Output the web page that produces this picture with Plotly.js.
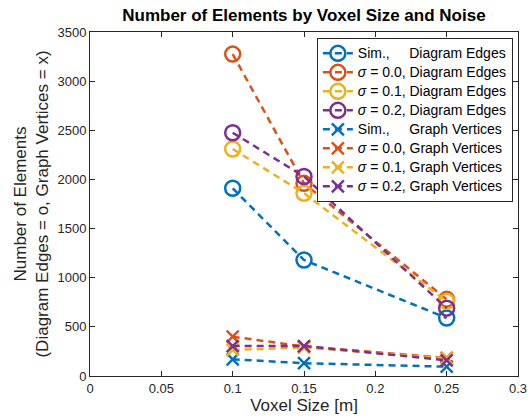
<!DOCTYPE html>
<html>
<head>
<meta charset="utf-8">
<script src="https://cdn.plot.ly/plotly-3.0.1.min.js"></script>
<style>html,body{margin:0;padding:0;background:#fff;}#chart{width:532px;height:417px;}</style>
</head>
<body>
<div id="chart"></div>
<script>
const voxelSizes = [0.1, 0.15, 0.25];

const edgesSim = [1910, 1180, 590];
const edgesS00 = [3275, 1960, 780];
const edgesS01 = [2310, 1860, 760];
const edgesS02 = [2475, 2030, 690];

const vertsSim = [170, 130, 95];
const vertsS00 = [400, 300, 185];
const vertsS01 = [265, 290, 180];
const vertsS02 = [305, 305, 160];

const seriesNames = [
  "Sim.,\u00A0\u00A0\u00A0\u00A0\u00A0Diagram Edges",
  "<i>σ</i> = 0.0, Diagram Edges",
  "<i>σ</i> = 0.1, Diagram Edges",
  "<i>σ</i> = 0.2, Diagram Edges",
  "Sim.,\u00A0\u00A0\u00A0\u00A0\u00A0Graph Vertices",
  "<i>σ</i> = 0.0, Graph Vertices",
  "<i>σ</i> = 0.1, Graph Vertices",
  "<i>σ</i> = 0.2, Graph Vertices"
];

const colors = ["#0072BD", "#D95319", "#EDB120", "#7E2F8E"];
const edgeSeries = [edgesSim, edgesS00, edgesS01, edgesS02];
const vertSeries = [vertsSim, vertsS00, vertsS01, vertsS02];

function legendLabel(s) {
  return '<span style="font-size:14px">' + s + '</span>';
}

const traces = [];
edgeSeries.forEach((ys, i) => {
  traces.push({
    x: voxelSizes, y: ys, type: 'scatter', mode: 'lines+markers',
    name: legendLabel(seriesNames[i]),
    line: {color: colors[i], width: 2.5, dash: '7px,5px'},
    marker: {symbol: 'circle-open', size: 15, color: colors[i], line: {width: 2.5, color: colors[i]}}
  });
});
vertSeries.forEach((ys, i) => {
  traces.push({
    x: voxelSizes, y: ys, type: 'scatter', mode: 'lines+markers',
    name: legendLabel(seriesNames[i + 4]),
    line: {color: colors[i], width: 2.5, dash: '7px,5px'},
    marker: {symbol: 'x-thin-open', size: 12, color: colors[i], line: {width: 2.5, color: colors[i]}}
  });
});

const axisCommon = {
  showgrid: false, zeroline: false, showline: true, mirror: 'ticks',
  linecolor: '#262626', linewidth: 1, ticks: 'inside', ticklen: 5,
  tickcolor: '#262626', tickfont: {size: 13, color: '#262626'}
};

const layout = {
  width: 532, height: 417,
  margin: {l: 90, r: 14, t: 32, b: 41},
  font: {family: 'Liberation Sans, Arial, sans-serif', color: '#262626'},
  paper_bgcolor: '#fff', plot_bgcolor: '#fff',
  title: {text: '<b>Number of Elements by Voxel Size and Noise</b>', font: {size: 17, color: '#000'},
          x: 0.5713, xanchor: 'center', y: 0.964, yanchor: 'middle'},
  xaxis: Object.assign({}, axisCommon, {
    range: [0, 0.3], dtick: 0.05, tick0: 0,
    title: {text: 'Voxel Size [m]', font: {size: 17, color: '#262626'}, standoff: 0}
  }),
  yaxis: Object.assign({}, axisCommon, {
    range: [0, 3500], dtick: 500, tick0: 0,
    title: {text: 'Number of Elements<br>(Diagram Edges = o, Graph Vertices = x)', font: {size: 17, color: '#262626'}, standoff: 4}
  }),
  showlegend: true,
  legend: {
    x: 0.988, xanchor: 'right', y: 0.983, yanchor: 'top',
    bgcolor: '#fff', bordercolor: '#262626', borderwidth: 1,
    font: {size: 11, color: '#000'}, itemwidth: 30, tracegroupgap: 0
  }
};

Plotly.newPlot('chart', traces, layout, {displayModeBar: false, staticPlot: true});
</script>
</body>
</html>
